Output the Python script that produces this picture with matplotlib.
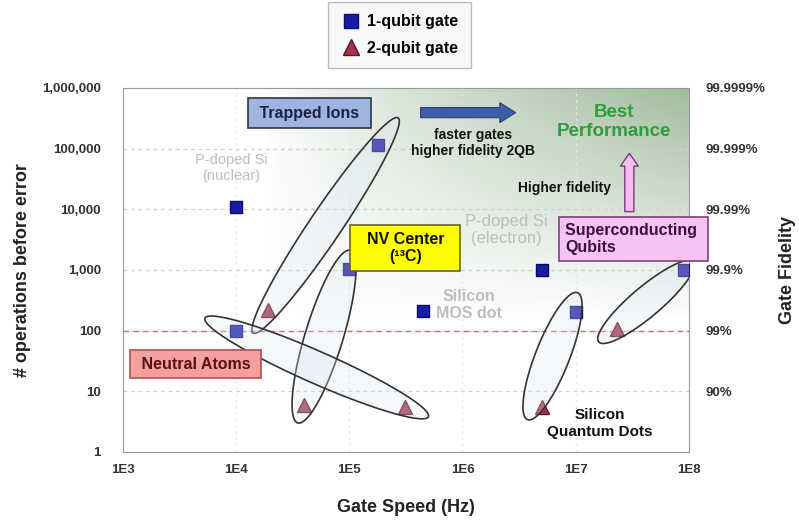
import numpy as np
import matplotlib
matplotlib.use('Agg')
import matplotlib.pyplot as plt
from matplotlib.patches import FancyArrow

plt.rcParams['font.family'] = ['Liberation Sans', 'DejaVu Sans']

# data: gate speed (Hz) vs number of operations before error
one_qubit_speed = [1e4, 1.8e5, 1e5, 1e4, 4.5e5, 5e6, 1e7, 9e7]
one_qubit_ops = [11000, 115000, 1050, 100, 210, 1000, 200, 1000]
two_qubit_speed = [1.9e4, 4e4, 3.1e5, 5e6, 2.3e7]
two_qubit_ops = [220, 6, 5.5, 5.5, 105]

x_ticks = [1e3, 1e4, 1e5, 1e6, 1e7, 1e8]
x_labels = ['1E3', '1E4', '1E5', '1E6', '1E7', '1E8']
y_ticks = [1, 10, 100, 1e3, 1e4, 1e5, 1e6]
y_labels = ['1', '10', '100', '1,000', '10,000', '100,000', '1,000,000']
fid_ticks = [10, 100, 1e3, 1e4, 1e5, 1e6]
fid_labels = ['90%', '99%', '99.9%', '99.99%', '99.999%', '99.9999%']

# platform regions: (end point a, end point b, half width in px)
regions = [
    ((1.41e4, 91), (2.7e5, 3.2e5), 16),     # trapped ions
    ((3.5e4, 3.0), (1.02e5, 2100), 19),     # NV center
    ((5.3e3, 160), (5.0e5, 3.8), 16),       # neutral atoms
    ((3.76e6, 3.4), (1.04e7, 420), 17),     # silicon QD
    ((1.6e7, 65), (1.1e8, 1350), 15),       # superconducting
]

fig = plt.figure(figsize=(7.99, 5.23), dpi=100)
ax = fig.add_axes([0.154, 0.136, 0.708, 0.696])
ax.set_xscale('log')
ax.set_yscale('log')

# green gradient towards top right
nx, ny = 200, 200
u = np.linspace(0, 1, nx)[None, :]
v = np.linspace(0, 1, ny)[:, None]
alpha = np.clip(u ** 0.8 * v ** 1.0, 0, 1) * 0.85
img = np.zeros((ny, nx, 4))
img[..., 0] = 0.57
img[..., 1] = 0.69
img[..., 2] = 0.55
img[..., 3] = alpha
ax.imshow(img, extent=[0.25, 1.0, 0.36, 1.0], transform=ax.transAxes,
          origin='lower', aspect='auto', zorder=0, interpolation='bilinear')
ax.set_xlim(1e3, 1e8)
ax.set_ylim(1, 1e6)

for t in y_ticks[1:-1]:
    ax.axhline(t, color='#cfcfcf', lw=0.9, dashes=(3, 3), zorder=1)
for t in x_ticks[1:-1]:
    ax.axvline(t, color='#e6e6e6', lw=0.9, dashes=(2, 3), zorder=1)
ax.axhline(100, color='#e06a6a', lw=1.0, dashes=(4, 3), zorder=1)

ax.plot(one_qubit_speed, one_qubit_ops, 's', color='#1a1aa8', mec='#0d0d60',
        ms=9, zorder=3, label='1-qubit gate')
ax.plot(two_qubit_speed, two_qubit_ops, '^', color='#a3324a', mec='#5a1424',
        ms=10, zorder=3, label='2-qubit gate')

# ellipses drawn in pixel space
fig.canvas.draw()
tr = ax.transData
for a, b, hw in regions:
    pa = tr.transform(a)
    pb = tr.transform(b)
    c = (pa + pb) / 2
    d = pb - pa
    half = np.hypot(*d) / 2
    ang = np.arctan2(d[1], d[0])
    t = np.linspace(0, 2 * np.pi, 200)
    ex = half * np.cos(t)
    ey = hw * np.sin(t)
    px = c[0] + ex * np.cos(ang) - ey * np.sin(ang)
    py = c[1] + ex * np.sin(ang) + ey * np.cos(ang)
    pts = tr.inverted().transform(np.column_stack([px, py]))
    ax.fill(pts[:, 0], pts[:, 1], facecolor=(0.86, 0.90, 0.96, 0.3),
            edgecolor='#333333', lw=1.2, zorder=4)

box = dict(boxstyle='square,pad=0.45', lw=1.2)
ax.text(4.43e4, 3.85e5, ' Trapped Ions ', ha='center', va='center', fontsize=11.5,
        fontweight='bold', color='#1a2240',
        bbox=dict(box, facecolor='#9fb4e0', edgecolor='#333344'), zorder=5)
ax.text(3.13e5, 2290, '  NV Center  \n(¹³C)', ha='center', va='center', fontsize=11.5,
        fontweight='bold', color='#111111', linespacing=1.2,
        bbox=dict(box, facecolor='#ffff00', edgecolor='#666622'), zorder=5)
ax.text(4.4e3, 28, ' Neutral Atoms ', ha='center', va='center', fontsize=11.5,
        fontweight='bold', color='#5a1010',
        bbox=dict(boxstyle='square,pad=0.4', lw=1.2, facecolor='#f4a0a0',
                  edgecolor='#b05050'), zorder=5)
ax.text(3.25e7, 3230, 'Superconducting \nQubits', ha='center', va='center', fontsize=11.5,
        fontweight='bold', color='#3a1040', linespacing=1.15, multialignment='left',
        bbox=dict(boxstyle='square,pad=0.38', lw=1.2, facecolor='#f7c4f2',
                  edgecolor='#804080'), zorder=5, clip_on=False)

grey = '#bdbdbd'
ax.text(9e3, 4.8e4, 'P-doped Si\n(nuclear)', ha='center', va='center', fontsize=10.5,
        color=grey, zorder=5)
ax.text(2.45e6, 4550, 'P-doped Si\n(electron)', ha='center', va='center', fontsize=12,
        color=grey, zorder=5)
ax.text(1.15e6, 265, 'Silicon\nMOS dot', ha='center', va='center', fontsize=11.5,
        fontweight='bold', color=grey, zorder=5)
ax.text(1.63e7, 2.9, 'Silicon\nQuantum Dots', ha='center', va='center', fontsize=11,
        fontweight='bold', color='#111111', linespacing=1.25, zorder=5)
ax.text(1.23e6, 1.23e5, 'faster gates\nhigher fidelity 2QB', ha='center', va='center',
        fontsize=10, fontweight='bold', color='#111111', zorder=5)
ax.text(8e6, 2.24e4, 'Higher fidelity', ha='center', va='center',
        fontsize=10, fontweight='bold', color='#111111', zorder=5)
ax.text(2.2e7, 2.74e5, 'Best\nPerformance', ha='center', va='center',
        fontsize=13.5, fontweight='bold', color='#2e9e3a', zorder=5)

# arrows in axes fraction
ax.add_patch(FancyArrow(0.526, 0.932, 0.168, 0, width=0.028, head_width=0.055,
                        head_length=0.028, length_includes_head=True,
                        transform=ax.transAxes, facecolor='#3d5ea8',
                        edgecolor='#2a3f70', lw=0.8, zorder=5))
ax.add_patch(FancyArrow(0.895, 0.66, 0, 0.16, width=0.016, head_width=0.032,
                        head_length=0.035, length_includes_head=True,
                        transform=ax.transAxes, facecolor='#f4c0f0',
                        edgecolor='#7a3a7a', lw=1.0, zorder=5))

for s in ax.spines.values():
    s.set_color('#999999')
ax.set_xticks(x_ticks)
ax.set_xticklabels(x_labels)
ax.set_yticks(y_ticks)
ax.set_yticklabels(y_labels)
ax.minorticks_off()
ax.tick_params(length=0, labelsize=9.5, labelcolor='#333333')
ax.tick_params(axis='y', pad=16)
ax.tick_params(axis='x', pad=9)
for lab in ax.get_xticklabels() + ax.get_yticklabels():
    lab.set_fontweight('bold')
ax.set_xlabel('Gate Speed (Hz)', fontsize=13, fontweight='bold', color='#222222', labelpad=16)
ax.set_ylabel('# operations before error', fontsize=13, fontweight='bold',
              color='#222222', labelpad=8)

ax2 = ax.twinx()
ax2.set_yscale('log')
ax2.set_ylim(1, 1e6)
ax2.set_yticks(fid_ticks)
ax2.set_yticklabels(fid_labels)
ax2.minorticks_off()
ax2.tick_params(length=0, labelsize=9.5, labelcolor='#333333', pad=12)
for lab in ax2.get_yticklabels():
    lab.set_fontweight('bold')
for s in ax2.spines.values():
    s.set_visible(False)
ax2.set_ylabel('Gate Fidelity', fontsize=13, fontweight='bold', color='#222222', labelpad=10)

leg = fig.legend(loc='center', bbox_to_anchor=(0.5, 0.933), frameon=True,
                 fancybox=False, edgecolor='#aaaaaa', facecolor='#f7f7f7',
                 prop={'weight': 'bold', 'size': 11.5}, handletextpad=0.4,
                 borderpad=0.8, labelspacing=0.7, handlelength=1.2, markerscale=1.1)
leg.get_frame().set_linewidth(1.0)

fig.savefig('out.png', dpi=100)
